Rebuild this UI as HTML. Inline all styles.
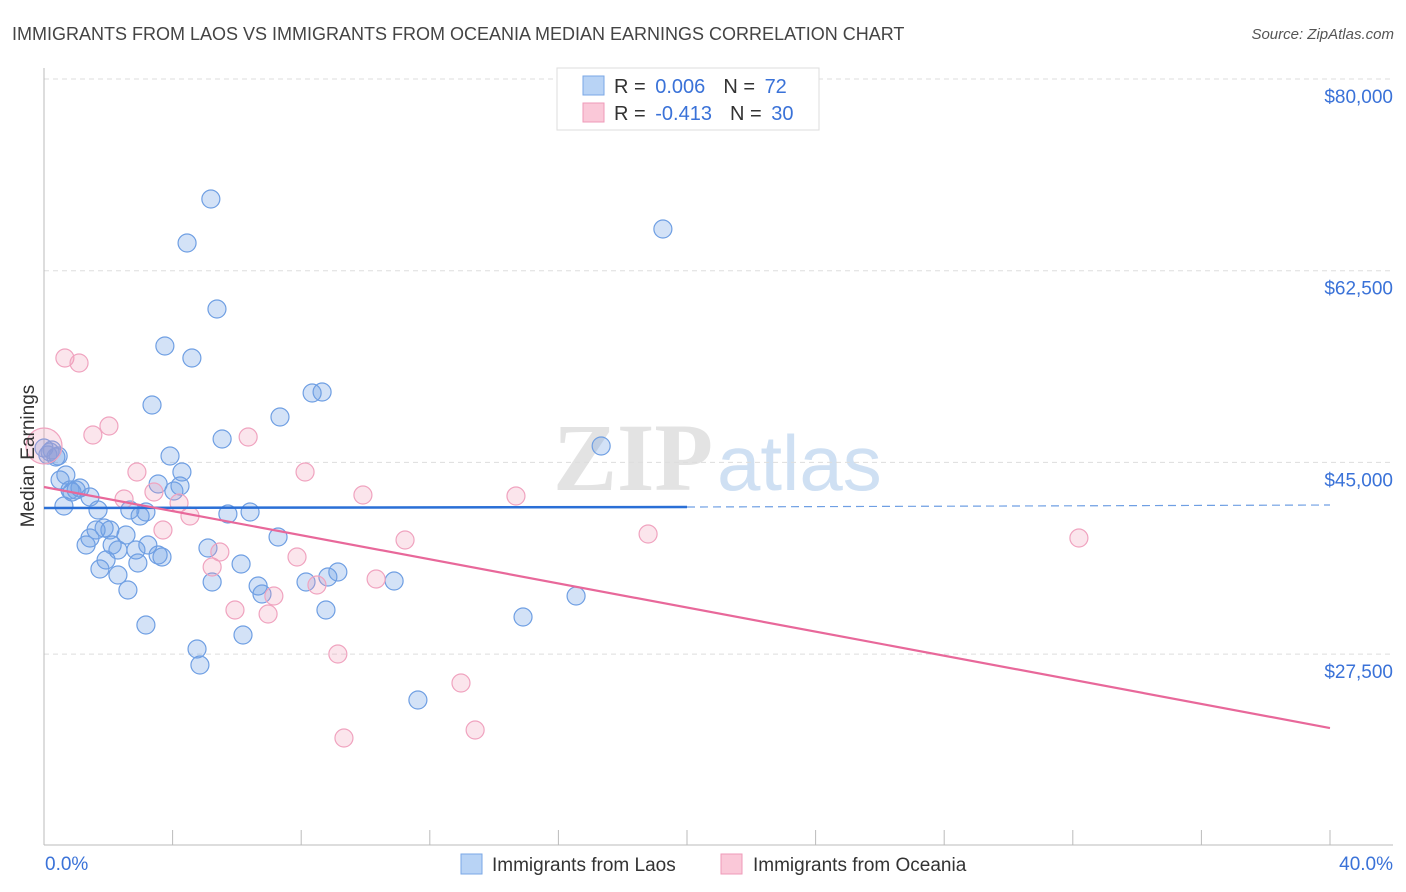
<!DOCTYPE html>
<html><head><meta charset="utf-8"><style>
body{margin:0;background:#fff;font-family:"Liberation Sans",sans-serif;}
svg{display:block}
</style></head><body>
<svg id="chart" width="1406" height="892" xmlns="http://www.w3.org/2000/svg">
<text x="12" y="40" font-size="18" fill="#444">IMMIGRANTS FROM LAOS VS IMMIGRANTS FROM OCEANIA MEDIAN EARNINGS CORRELATION CHART</text>
<text x="1394" y="39" font-size="15" fill="#555" font-style="italic" text-anchor="end">Source: ZipAtlas.com</text>
<g>
<text x="553" y="490" font-size="96" fill="#e3e3e3" font-family="Liberation Serif, serif" font-weight="bold">ZIP</text>
<text x="717" y="490" font-size="78" fill="#cfe0f3">atlas</text>
</g>
<g id="grid"></g>
<g id="axes"></g>
<g id="marks"></g>
<text transform="translate(34,456) rotate(-90)" font-size="19" fill="#333" text-anchor="middle">Median Earnings</text>
<text x="45" y="870" font-size="19" fill="#3a72d8">0.0%</text>
<text x="1393" y="870" font-size="19" fill="#3a72d8" text-anchor="end">40.0%</text>
<g>
<rect x="557" y="68" width="262" height="62" fill="#fff" stroke="#ddd"/>
<rect x="583" y="76" width="21" height="19" fill="#b8d3f5" stroke="#7aa7e6"/>
<rect x="583" y="103" width="21" height="19" fill="#fac8d8" stroke="#ef9ab8"/>
<text x="614" y="93" font-size="20" fill="#333">R = <tspan fill="#3a72d8" dx="4">0.006</tspan><tspan dx="18">N = </tspan><tspan fill="#3a72d8" dx="4">72</tspan></text>
<text x="614" y="120" font-size="20" fill="#333">R = <tspan fill="#3a72d8" dx="4">-0.413</tspan><tspan dx="18">N = </tspan><tspan fill="#3a72d8" dx="4">30</tspan></text>
</g>
<g>
<rect x="461" y="854" width="21" height="20" fill="#b8d3f5" stroke="#7aa7e6"/>
<text x="492" y="871" font-size="19" fill="#333">Immigrants from Laos</text>
<rect x="721" y="854" width="21" height="20" fill="#fac8d8" stroke="#ef9ab8"/>
<text x="753" y="871" font-size="19" fill="#333">Immigrants from Oceania</text>
</g>
</svg>
<script>
const yTicks=[80000,62500,45000,27500];
const yTickLabels=["$80,000","$62,500","$45,000","$27,500"];
const laosX=[0.12,0.25,0.37,0.50,0.68,0.87,1.0,1.12,0.62,1.43,1.68,1.31,1.43,1.62,1.87,2.05,2.12,2.30,2.55,1.74,1.93,2.30,2.61,2.86,2.99,3.17,3.23,3.55,3.67,2.92,3.17,2.67,3.36,3.55,3.92,4.04,4.23,4.29,3.76,4.60,4.45,5.19,5.38,5.54,5.72,6.41,5.10,5.23,6.13,6.66,6.78,7.28,7.34,4.76,4.85,6.19,8.15,8.34,8.65,8.83,8.77,9.14,10.89,11.63,14.90,16.55,17.33,19.25,0.0,0.19,0.44,0.81];
const laosY=[45675,46131,45492,43393,43849,42297,42480,42662,41019,41841,40654,37459,38098,38828,39011,38828,37459,37002,38372,35268,36089,34720,33351,37002,40106,40471,37459,36546,36363,35816,30156,40654,50239,43028,45584,42389,42845,44123,55626,54530,65028,69045,59003,47136,40289,40471,37185,34081,35724,33716,32986,38189,49144,27965,26504,29243,34081,51335,51426,34538,31525,34994,34172,23309,30886,32803,46497,66306,46314,45949,45584,42480];
const oceX=[0,0.65,1.09,1.52,2.02,2.49,2.89,3.42,3.70,4.20,4.54,5.23,5.47,5.94,6.35,6.97,7.15,7.87,8.12,8.49,9.14,9.33,9.92,10.33,11.23,12.97,13.41,14.68,18.79,32.19];
const oceY=[46497,54530,54074,47501,48322,41658,44123,42297,38828,41293,40106,35450,36820,31525,47318,31160,32803,36363,44123,33807,27508,19840,42023,34355,37915,24861,20570,41932,38463,38098];
const laosTrend=[40837,40928,41110]; // y at 0%, 20%, 40%
const oceTrend=[42753,20752]; // y at 0%, 40%
const NS="http://www.w3.org/2000/svg";
const X=v=>44+v/40*1286;
const Y=v=>79+(80000-v)/17500*191.7;
function mk(tag,attrs,parent){const e=document.createElementNS(NS,tag);for(const k in attrs)e.setAttribute(k,attrs[k]);parent.appendChild(e);return e;}
const grid=document.getElementById('grid'),axes=document.getElementById('axes'),marks=document.getElementById('marks');
yTicks.forEach((t,i)=>{
 const l=mk('line',{x1:44,x2:1393,y1:Y(t),y2:Y(t),stroke:'#ddd','stroke-dasharray':'5,4'},grid);
 
 
 const tx=mk('text',{x:1393,y:Y(t)+24,'font-size':19,fill:'#3a72d8','text-anchor':'end'},grid);
 tx.textContent=yTickLabels[i];
 
 
});
const ya=mk('line',{x1:44,x2:44,y1:68,y2:845,stroke:'#bbb'},axes);


const xa=mk('line',{x1:44,x2:1393,y1:845,y2:845,stroke:'#bbb'},axes);


for(let i=0;i<=10;i++){
 const t=mk('line',{x1:X(i*4),x2:X(i*4),y1:830,y2:845,stroke:'#bbb'},axes);
 
 
}
laosX.forEach((x,i)=>{
 const c=mk('circle',{cx:X(x),cy:Y(laosY[i]),r:9,fill:'rgba(110,160,230,0.3)',stroke:'#6f9fe3','stroke-width':1.2},marks);
 
 
});
oceX.forEach((x,i)=>{
 const c=mk('circle',{cx:X(x),cy:Y(oceY[i]),r:i===0?18:9,fill:'rgba(240,150,180,0.25)',stroke:'#f0a3bf','stroke-width':1.2},marks);
 
 
});
const b1=mk('line',{x1:X(0),y1:Y(laosTrend[0]),x2:X(20),y2:Y(laosTrend[1]),stroke:'#2a6fd6','stroke-width':2.5},marks);


const b2=mk('line',{x1:X(20),y1:Y(laosTrend[1]),x2:X(40),y2:Y(laosTrend[2]),stroke:'#6f9fe3','stroke-width':1.2,'stroke-dasharray':'8,5'},marks);


const p1=mk('line',{x1:X(0),y1:Y(oceTrend[0]),x2:X(40),y2:Y(oceTrend[1]),stroke:'#e8689a','stroke-width':2.2},marks);


</script>
</body></html>
